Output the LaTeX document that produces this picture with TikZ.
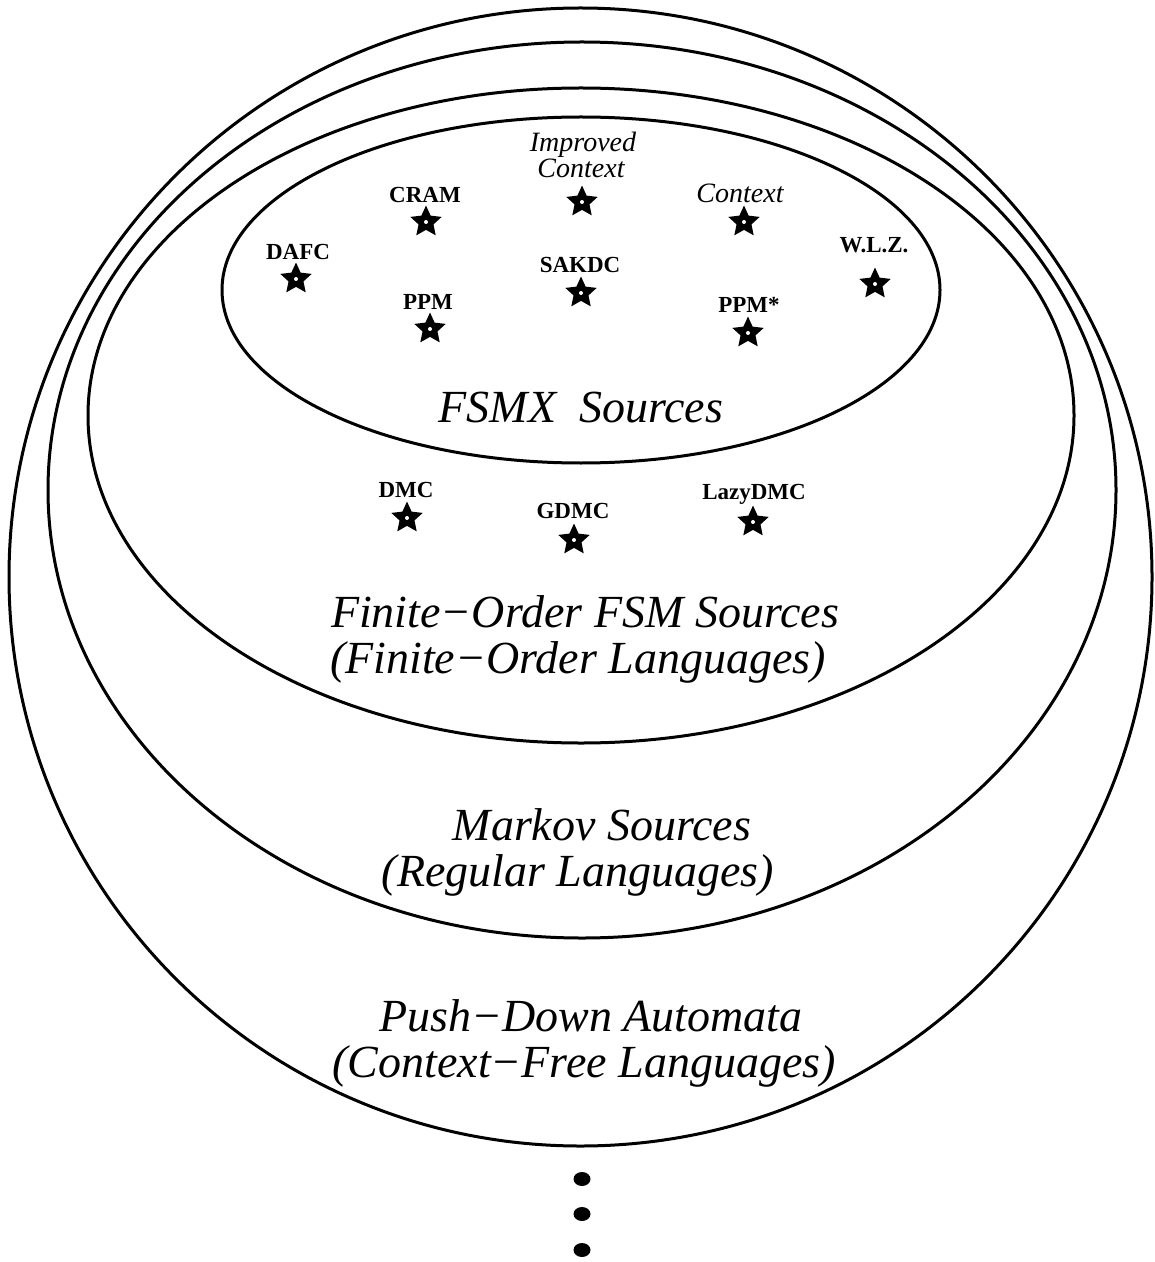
\documentclass[tikz,border=0pt]{standalone}
\usepackage{fontspec}
\setmainfont{Liberation Serif}
\usetikzlibrary{shapes.geometric}

\begin{document}
\begin{tikzpicture}[x=0.5pt,y=-0.5pt,
  region/.style={line width=1.5pt},
  starmark/.style={star, star points=5, star point ratio=2.1, fill=black,
    draw=none, minimum size=16.5pt, inner sep=0pt},
  tag/.style={font=\fontsize{11.5}{13}\selectfont\bfseries, anchor=base, inner sep=0pt},
  itag/.style={font=\fontsize{14}{13.5}\selectfont\itshape, anchor=base, inner sep=0pt},
  big/.style={font=\fontsize{23}{23}\selectfont\itshape, anchor=base, inner sep=0pt},
  more/.style={ellipse, fill=black, minimum width=8.5pt, minimum height=7pt, inner sep=0pt}
]
\useasboundingbox (0,0) rectangle (1155,1262);

% nested language classes
\draw[region] (580.5,577) ellipse [x radius=571.5, y radius=569];
\draw[region] (582,490) ellipse [x radius=534, y radius=448];
\draw[region] (581,415.5) ellipse [x radius=493, y radius=327.5];
\draw[region] (581,290) ellipse [x radius=359, y radius=173];

% class names
\node[big] (fsmx) at (581,422) {FSMX~~Sources};
\node[big] (fo1) at (585,627) {Finite−Order FSM Sources};
\node[big] (fo2) at (578,673) {(Finite−Order Languages)};
\node[big] (mk1) at (602,840) {Markov Sources};
\node[big] (mk2) at (578,886) {(Regular Languages)};
\node[big] (pd1) at (591,1031) {Push−Down Automata};
\node[big] (pd2) at (584,1077) {(Context−Free Languages)};

% individual compression methods
\node[starmark] (s-cram) at (426,222) {};
\node[starmark] (s-ic)   at (582,202) {};
\node[starmark] (s-ctx)  at (744,222) {};
\node[starmark] (s-dafc) at (296,279) {};
\node[starmark] (s-sak)  at (581,293) {};
\node[starmark] (s-wlz)  at (875,284) {};
\node[starmark] (s-ppm)  at (430,329) {};
\node[starmark] (s-ppms) at (748,333) {};
\node[starmark] (s-dmc)  at (407,518) {};
\node[starmark] (s-gdmc) at (574,540) {};
\node[starmark] (s-lazy) at (753,522) {};
\foreach \n in {s-cram,s-ic,s-ctx,s-dafc,s-sak,s-wlz,s-ppm,s-ppms,s-dmc,s-gdmc,s-lazy}
  \fill[white] (\n.center) circle (1pt);

\node[tag]  (t-cram) at (425,203) {CRAM};
\node[itag] (t-ic1)  at (583,152) {Improved};
\node[itag] (t-ic2)  at (581,178) {Context};
\node[itag] (t-ctx)  at (740,203) {Context};
\node[tag]  (t-dafc) at (298,260) {DAFC};
\node[tag]  (t-sak)  at (580,273) {SAKDC};
\node[tag]  (t-wlz)  at (874,253) {W.L.Z.};
\node[tag]  (t-ppm)  at (428,310) {PPM};
\node[tag]  (t-ppms) at (749,313) {PPM*};
\node[tag]  (t-dmc)  at (406,497) {DMC};
\node[tag]  (t-gdmc) at (573,518) {GDMC};
\node[tag]  (t-lazy) at (754,499) {LazyDMC};

% and so on
\node[more] (d1) at (582,1179) {};
\node[more] (d2) at (582,1214) {};
\node[more] (d3) at (582,1250) {};
\end{tikzpicture}
\end{document}
